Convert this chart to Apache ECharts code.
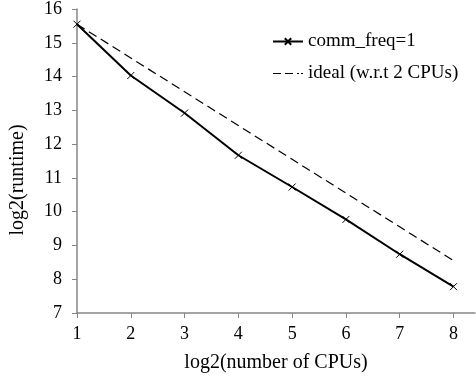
<!DOCTYPE html>
<html>
<head>
<meta charset="utf-8">
<script src="https://cdn.jsdelivr.net/npm/echarts@6/dist/echarts.min.js"></script>
<style>html,body{margin:0;padding:0;background:#fff}#c{width:476px;height:378px}</style>
</head>
<body>
<div id="c"></div>
<script>
var xValues = [1, 2, 3, 4, 5, 6, 7, 8];
var commFreq1 = [15.55, 14.03, 12.92, 11.67, 10.73, 9.77, 8.74, 7.78];
var ideal = [15.55, 14.55, 13.55, 12.55, 11.55, 10.55, 9.55, 8.55];
var xTicks = [1, 2, 3, 4, 5, 6, 7, 8];
var yTicks = [7, 8, 9, 10, 11, 12, 13, 14, 15, 16];

var font = 'Liberation Serif';
var axisColor = '#868686';
var chart = echarts.init(document.getElementById('c'), null, {renderer: 'canvas'});
var crossPath = 'path://M0,0L10,10M10,0L0,10';
chart.setOption({
  animation: false,
  backgroundColor: '#fff',
  textStyle: {fontFamily: font},
  grid: {left: 77, right: 1, top: 8, bottom: 65, containLabel: false},
  legend: {
    orient: 'vertical', left: 272, top: 32, padding: 0,
    itemWidth: 30, itemHeight: 8, itemGap: 13,
    textStyle: {fontFamily: font, fontSize: 19, color: '#000'},
    data: [
      {name: 'comm_freq=1'},
      {name: 'ideal (w.r.t 2 CPUs)', icon: 'path://M0,0h8v1h-8zM12,0h8v1h-8zM24,0h2v1h-2zM28,0h2v1h-2z'}
    ]
  },
  xAxis: {
    type: 'value', min: 1, max: 8.4,
    name: 'log2(number of CPUs)', nameLocation: 'middle', nameGap: 40,
    nameTextStyle: {fontFamily: font, fontSize: 20, color: '#000'},
    axisLine: {show: true, lineStyle: {color: axisColor, width: 1.5}},
    axisTick: {show: true, inside: false, length: 5, customValues: xTicks, lineStyle: {color: axisColor}},
    axisLabel: {customValues: xTicks, fontFamily: font, fontSize: 18, color: '#000', margin: 12},
    splitLine: {show: false}
  },
  yAxis: {
    type: 'value', min: 7, max: 16, interval: 1,
    name: 'log2(runtime)', nameLocation: 'middle', nameGap: 49, nameRotate: 90,
    nameTextStyle: {fontFamily: font, fontSize: 20, color: '#000', padding: [0, 38, 0, 0]},
    axisLine: {show: true, lineStyle: {color: axisColor, width: 1.5}},
    axisTick: {show: true, inside: false, length: 5, lineStyle: {color: axisColor}},
    axisLabel: {customValues: yTicks, fontFamily: font, fontSize: 18, color: '#000', margin: 15},
    splitLine: {show: false}
  },
  series: [
    {
      name: 'comm_freq=1', type: 'line',
      data: xValues.map(function (x, i) { return [x, commFreq1[i]]; }),
      symbol: crossPath, symbolSize: 7, showSymbol: true,
      lineStyle: {color: '#000', width: 2},
      itemStyle: {color: '#000', borderColor: '#000', borderWidth: 1}
    },
    {
      name: 'ideal (w.r.t 2 CPUs)', type: 'line',
      data: xValues.map(function (x, i) { return [x, ideal[i]]; }),
      symbol: 'none',
      lineStyle: {color: '#000', width: 1.2, type: [9, 5]},
      itemStyle: {color: '#000'}
    }
  ]
});
</script>
</body>
</html>
